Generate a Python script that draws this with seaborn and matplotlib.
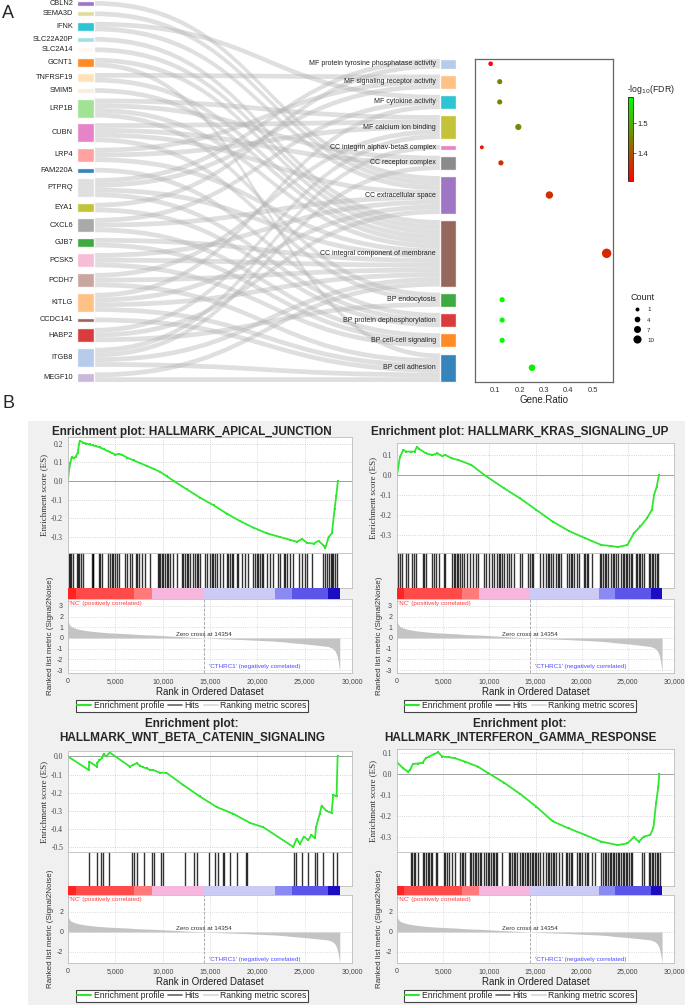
import numpy as np
import pandas as pd
import matplotlib
matplotlib.use("Agg")
import matplotlib.pyplot as plt
import matplotlib.ticker as mticker
from matplotlib.path import Path
from matplotlib.patches import PathPatch, Rectangle
from matplotlib.colors import LinearSegmentedColormap, ListedColormap, BoundaryNorm, Normalize
from matplotlib.cm import ScalarMappable
from matplotlib.lines import Line2D
import seaborn as sns

sns.set_theme(style="white")
plt.rcParams["font.family"] = ["Liberation Sans", "DejaVu Sans"]
plt.rcParams["axes.unicode_minus"] = False
SERIF = ["Liberation Serif", "DejaVu Serif"]

# ── panel A data ──────────────────────────────────────────────────────────────
TERMS = ["MF protein tyrosine phosphatase activity", "MF signaling receptor activity",
         "MF cytokine activity", "MF calcium ion binding", "CC integrin alphav-beta8 complex",
         "CC receptor complex", "CC extracellular space", "CC integral component of membrane",
         "BP endocytosis", "BP protein dephosphorylation", "BP cell-cell signaling",
         "BP cell adhesion"]
TERM_COLORS = ["#aec7e8", "#ffbb78", "#17becf", "#bcbd22", "#e377c2", "#7f7f7f",
               "#9467bd", "#8c564b", "#2ca02c", "#d62728", "#ff7f0e", "#1f77b4"]
GENE_RATIO = [0.082, 0.119, 0.119, 0.195, 0.046, 0.124, 0.322, 0.556, 0.129, 0.129, 0.129, 0.251]
TERM_COUNT = [2, 3, 3, 5, 1, 3, 8, 14, 3, 3, 3, 6]
NEG_LOG_FDR = [1.31, 1.45, 1.45, 1.46, 1.33, 1.36, 1.36, 1.35, 1.58, 1.58, 1.58, 1.57]

GENES = ["CBLN2", "SEMA3D", "IFNK", "SLC22A20P", "SLC2A14", "GCNT1", "TNFRSF19", "SMIM5",
         "LRP1B", "CUBN", "LRP4", "FAM220A", "PTPRQ", "EYA1", "CXCL6", "GJB7", "PCSK5",
         "PCDH7", "KITLG", "CCDC141", "HABP2", "ITGB8", "MEGF10"]
GENE_COLORS = ["#9467bd", "#dbdb8d", "#17becf", "#9edae5", "#fff8ee", "#ff7f0e", "#ffdfb0",
               "#fbe9dc", "#98df8a", "#e377c2", "#ff9896", "#1f77b4", "#dcdcdc", "#bcbd22",
               "#a0a0a0", "#2ca02c", "#f7b6d2", "#c49c94", "#ffbb78", "#8c564b", "#d62728",
               "#aec7e8", "#c5b0d5"]
# term indices each gene links to
GENE_TERMS = {
    "CBLN2": [6], "SEMA3D": [6], "IFNK": [2, 6], "SLC22A20P": [7], "SLC2A14": [7],
    "GCNT1": [7, 11], "TNFRSF19": [1, 7], "SMIM5": [7], "LRP1B": [3, 5, 7, 8],
    "CUBN": [3, 5, 6, 8], "LRP4": [1, 3, 7], "FAM220A": [9], "PTPRQ": [0, 1, 7, 9],
    "EYA1": [0, 9], "CXCL6": [2, 6, 10], "GJB7": [7, 10], "PCSK5": [6, 7, 10],
    "PCDH7": [3, 7, 11], "KITLG": [2, 6, 7, 11], "CCDC141": [11], "HABP2": [3, 6, 8],
    "ITGB8": [4, 5, 7, 11], "MEGF10": [7, 11],
}

# ── panel B data ──────────────────────────────────────────────────────────────
ZERO_CROSS = 14354
MET_RANK = [0, 60, 150, 300, 500, 800, 1200, 2000, 3000, 4000, 5000, 6230, 7000, 8000,
            8835, 10000, 11000, 12000, 13000, 13500, 14354, 15500, 17000, 18500, 20000,
            21860, 23000, 23620, 25000, 26000, 27000, 27460, 27900, 28200, 28400, 28550,
            28650, 28708]
MET_VALUE = [1.7, 1.45, 1.25, 1.1, 1.0, 0.9, 0.8, 0.68, 0.58, 0.5, 0.45, 0.4, 0.35, 0.3,
             0.28, 0.22, 0.17, 0.12, 0.07, 0.05, 0.0, -0.05, -0.1, -0.15, -0.22,
             -0.3, -0.38, -0.45, -0.55, -0.65, -0.75, -0.8, -0.95, -1.2, -1.6, -2.2,
             -2.8, -3.1]
BAR_LEVELS = [-10, -0.78, -0.42, -0.28, 0.005, 0.285, 0.39, 0.95, 10]
BAR_COLORS = ["#1c0dc2", "#5b55ea", "#8a8af2", "#cbcbf6", "#f6b6de", "#ff7a7a",
              "#ff4a4a", "#ff2424"]

ES1_RANK = [0, 106, 246, 387, 598, 810, 1021, 1232, 1584, 1936, 2288, 2640, 2992, 3344,
            3766, 4189, 4646, 4998, 5350, 5702, 6230, 6934, 7638, 8342, 9046, 9750, 10454,
            11158, 12566, 13974, 15381, 16789, 18197, 19605, 21013, 22421, 23477, 24181,
            24709, 25237, 25941, 26469, 26997, 27173, 27525, 27877, 28159, 28335, 28511]
ES1_VALUE = [0.0, 0.059, 0.095, 0.127, 0.121, 0.13, 0.15, 0.215, 0.205, 0.2, 0.195, 0.19,
             0.185, 0.18, 0.17, 0.16, 0.15, 0.14, 0.145, 0.14, 0.125, 0.11, 0.095, 0.08,
             0.065, 0.048, 0.025, 0.0, -0.045, -0.09, -0.13, -0.175, -0.215, -0.25, -0.28,
             -0.3, -0.315, -0.325, -0.31, -0.33, -0.335, -0.32, -0.345, -0.36, -0.3, -0.28,
             -0.15, -0.08, 0.0]
HITS1 = [106, 211, 317, 493, 915, 1021, 1126, 1373, 1619, 2499, 2605, 2675, 3309, 3414,
         3555, 4259, 4435, 4611, 4787, 4963, 5139, 5421, 6019, 6195, 6547, 6723, 7146,
         7322, 7533, 7779, 8131, 8659, 9469, 9610, 9715, 9891, 10067, 10243, 10419, 10595,
         10771, 11123, 11475, 12003, 12179, 12355, 12531, 12707, 12883, 13235, 13411,
         13587, 13763, 13939, 14467, 14643, 14995, 15171, 15347, 15523, 15699, 16051,
         16403, 16755, 16931, 17107, 17283, 17459, 17811, 17987, 18339, 18691, 19043,
         19571, 19747, 19923, 20099, 20275, 20451, 20627, 20979, 21331, 21683, 22211,
         22387, 22810, 22950, 23091, 23443, 23795, 24429, 24675, 25027, 25203, 25731,
         26963, 27139, 27315, 27597, 27738, 27843, 28019, 28195, 28371]

ES2_RANK = [0, 141, 317, 669, 1021, 1549, 1900, 2147, 2429, 3133, 3837, 4365, 4893, 5245,
            5949, 6653, 8061, 9469, 11581, 13341, 15101, 16861, 18621, 20381, 22141, 23197,
            23901, 24957, 25661, 26365, 27069, 27597, 27843, 28125, 28371]
ES2_VALUE = [0.0, 0.04, 0.09, 0.125, 0.117, 0.117, 0.117, 0.14, 0.13, 0.108, 0.1, 0.108,
             0.095, 0.1, 0.083, 0.075, 0.05, 0.0, -0.066, -0.117, -0.175, -0.233, -0.28,
             -0.316, -0.35, -0.355, -0.36, -0.35, -0.29, -0.257, -0.216, -0.175, -0.1,
             -0.058, 0.0]
HITS2 = [141, 317, 493, 951, 1197, 1654, 1795, 2006, 2781, 2957, 3133, 3837, 4013, 4189,
         4541, 5069, 5245, 5949, 6125, 6301, 6477, 6653, 6829, 7005, 7287, 7533, 7885,
         8237, 8589, 8765, 9469, 9645, 9997, 10243, 10525, 10877, 11018, 11159, 11405,
         11581, 11863, 12109, 12355, 12637, 13341, 13517, 14221, 14397, 14573, 14749,
         15453, 15805, 16157, 16333, 16509, 16685, 16861, 17213, 17389, 17565, 17741,
         18445, 18621, 18797, 18973, 19149, 19501, 19677, 20205, 20381, 20557, 20733,
         21085, 21965, 22141, 22317, 22493, 22669, 22845, 23197, 23373, 23549, 23725,
         23901, 24253, 24429, 24605, 24781, 24957, 25133, 25309, 25485, 25837, 26013,
         26189, 26365, 26541, 26717, 27245, 27421, 27597, 27773, 27949, 28125, 28301]

ES3_RANK = [0, 2180, 2253, 3060, 3098, 3310, 3590, 3770, 4050, 4400, 6550, 6900, 7250,
            7600, 7950, 8300, 8660, 9000, 9720, 10400, 12180, 13940, 15700, 17460, 19220,
            20630, 23800, 24150, 24500, 24920, 25380, 25700, 26090, 26200, 26400, 26600,
            26790, 27310, 27840, 28020, 28370, 28480]
ES3_VALUE = [0.0, -0.074, -0.028, -0.056, -0.035, -0.022, -0.009, 0.015, 0.0, 0.022,
             -0.056, -0.046, -0.037, -0.05, -0.06, -0.065, -0.074, -0.075, -0.089, -0.09,
             -0.157, -0.22, -0.278, -0.315, -0.365, -0.389, -0.497, -0.452, -0.48, -0.44,
             -0.46, -0.43, -0.45, -0.39, -0.35, -0.315, -0.27, -0.3, -0.31, -0.21, -0.22,
             0.0]
HITS3 = [2253, 3098, 3485, 3731, 4365, 6794, 7005, 7251, 8061, 8906, 9117, 9786, 10067,
         12355, 13341, 13658, 14925, 15523, 15875, 16333, 16474, 17107, 17811, 18762,
         18938, 23866, 24042, 24675, 25379, 26083, 26259, 26893, 28019, 28400]

ES4_RANK = [0, 669, 1197, 1400, 1725, 2253, 2781, 3100, 3485, 4013, 4471, 4893, 5597,
            6301, 7357, 8765, 9821, 11581, 13341, 15101, 16861, 18621, 20381, 22141,
            23901, 24957, 25661, 26189, 26717, 27421, 27773, 28055, 28301, 28406]
ES4_VALUE = [0.056, 0.027, 0.011, 0.019, 0.048, 0.05, 0.054, 0.075, 0.083, 0.095, 0.103,
             0.083, 0.08, 0.075, 0.059, 0.035, 0.006, -0.041, -0.095, -0.156, -0.225,
             -0.259, -0.29, -0.322, -0.338, -0.33, -0.3, -0.322, -0.298, -0.29, -0.255,
             -0.14, -0.06, 0.0]
HITS4 = [1549, 1654, 1795, 1901, 2253, 2781, 2957, 3133, 3309, 3485, 3661, 3837, 4189,
         4365, 5069, 5245, 5421, 5597, 5949, 6301, 6829, 7005, 7181, 7357, 7885, 8061,
         8237, 8413, 8589, 8765, 8941, 9117, 9469, 9645, 9821, 9997, 10173, 10349, 10525,
         10701, 10877, 11405, 12109, 12285, 12461, 12637, 12813, 12989, 13341, 13517,
         13693, 13869, 14045, 14221, 14397, 14573, 14749, 14925, 15101, 15277, 15453,
         15805, 16157, 16333, 16509, 16685, 16861, 17037, 17213, 17565, 17917, 18269,
         18445, 18621, 18797, 18973, 19501, 19677, 19853, 20029, 20381, 20557, 20733,
         21085, 21437, 22141, 22317, 22493, 22669, 22845, 23021, 23197, 23373, 23549,
         23725, 23901, 24077, 24253, 24429, 24605, 24781, 24957, 25133, 25309, 25485,
         26541, 26717, 27245, 27421, 27597, 27773, 27949, 28125, 28301, 28477]

W, H = 685, 1007
fig = plt.figure(figsize=(W / 100, H / 100), dpi=100)


def px_axes(x0, y0, x1, y1):
    return fig.add_axes([x0 / W, 1 - y1 / H, (x1 - x0) / W, (y1 - y0) / H])


def stack(sizes, top, bottom, unit):
    gap = (bottom - top - unit * sum(sizes)) / (len(sizes) - 1)
    out, y = [], top
    for s in sizes:
        out.append((y, y + s * unit))
        y += s * unit + gap
    return out


# ── A. sankey ─────────────────────────────────────────────────────────────────
UNIT = 4.75
LX0, LX1, RX0, RX1 = 77, 94, 440, 456
gene_sizes = [len(GENE_TERMS[g]) for g in GENES]
term_sizes = [sum(t in GENE_TERMS[g] for g in GENES) for t in range(len(TERMS))]
gene_nodes = stack(gene_sizes, 1, 382, UNIT)
term_nodes = stack(term_sizes, 59, 382, UNIT)

ax_s = px_axes(0, 0, 470, 386)
ax_s.set_xlim(0, 470)
ax_s.set_ylim(386, 0)
ax_s.axis("off")

src_cur = [a for a, _ in gene_nodes]
tgt_cur = [a for a, _ in term_nodes]
xm = (LX1 + RX0) / 2
for gi, g in enumerate(GENES):
    for tj in sorted(GENE_TERMS[g]):
        y0a, y1a = src_cur[gi], tgt_cur[tj]
        y0b, y1b = y0a + UNIT, y1a + UNIT
        src_cur[gi] += UNIT
        tgt_cur[tj] += UNIT
        verts = [(LX1, y0a), (xm, y0a), (xm, y1a), (RX0, y1a), (RX0, y1b),
                 (xm, y1b), (xm, y0b), (LX1, y0b), (LX1, y0a)]
        codes = [Path.MOVETO, Path.CURVE4, Path.CURVE4, Path.CURVE4, Path.LINETO,
                 Path.CURVE4, Path.CURVE4, Path.CURVE4, Path.CLOSEPOLY]
        ax_s.add_patch(PathPatch(Path(verts, codes), fc="#b4b4b4", ec="none", alpha=0.42))

ax_s.bar([(LX0 + LX1) / 2] * len(GENES), [b - a for a, b in gene_nodes],
         bottom=[a for a, _ in gene_nodes], width=LX1 - LX0, color=GENE_COLORS, alpha=0.9)
ax_s.bar([(RX0 + RX1) / 2] * len(TERMS), [b - a for a, b in term_nodes],
         bottom=[a for a, _ in term_nodes], width=RX1 - RX0, color=TERM_COLORS, alpha=0.9)
for g, (a, b) in zip(GENES, gene_nodes):
    ax_s.text(LX0 - 4, (a + b) / 2, g, ha="right", va="center", fontsize=5.3, color="#222")
for t, (a, b) in zip(TERMS, term_nodes):
    ax_s.text(RX0 - 4, (a + b) / 2, t, ha="right", va="center", fontsize=5.0, color="#222")

# ── A. dot plot ───────────────────────────────────────────────────────────────
fdr_cmap = LinearSegmentedColormap.from_list("rg", ["#ff0000", "#00ff00"])
fdr_norm = Normalize(1.307, 1.587)
ax_d = px_axes(475, 59, 613, 382)
dots = pd.DataFrame({"ratio": GENE_RATIO,
                     "y": [(a + b) / 2 for a, b in term_nodes],
                     "fdr": NEG_LOG_FDR, "count": TERM_COUNT})
sns.scatterplot(data=dots, x="ratio", y="y", hue="fdr", palette=fdr_cmap, hue_norm=fdr_norm,
                size="count", sizes=(8, 46), size_norm=(1, 14), legend=False,
                edgecolor="none", ax=ax_d)
ax_d.set_xlim(0.018, 0.582)
ax_d.set_ylim(382, 59)
ax_d.set_yticks([])
ax_d.set_xticks([0.1, 0.2, 0.3, 0.4, 0.5])
ax_d.tick_params(axis="x", labelsize=5.5, length=2, width=0.5, pad=1.5, colors="#333")
ax_d.set_xlabel("Gene.Ratio", fontsize=7, labelpad=1)
ax_d.set_ylabel("")
for sp in ax_d.spines.values():
    sp.set_color("#666")
    sp.set_linewidth(0.9)

cax = px_axes(628, 97, 633, 181)
cb = fig.colorbar(ScalarMappable(norm=fdr_norm, cmap=fdr_cmap), cax=cax)
cb.set_ticks([1.4, 1.5])
cb.ax.tick_params(labelsize=5.5, length=2, width=0.5, pad=1)
cb.outline.set_linewidth(0.6)
fig.text(627 / W, 1 - 89 / H, "-log$_{10}$(FDR)", fontsize=6.3, va="center", ha="left")

legend_counts = [1, 4, 7, 10]
handles = [Line2D([], [], ls="", marker="o", color="black", markeredgewidth=0,
                  markersize=np.sqrt(8 + (c - 1) / 13 * 38)) for c in legend_counts]
ax_d.legend(handles, [str(c) for c in legend_counts], title="Count", loc="upper left",
            bbox_to_anchor=(626 / W, 1 - 289 / H), bbox_transform=fig.transFigure,
            frameon=False, fontsize=4.5, title_fontsize=6.5, labelspacing=0.75,
            handletextpad=0.6, borderpad=0.2)

fig.text(2 / W, 1 - 14 / H, "A", fontsize=13, va="center")
fig.text(2 / W, 1 - 404 / H, "B", fontsize=13, va="center")

# ── B. GSEA panels ────────────────────────────────────────────────────────────
fig.patches.append(Rectangle((28 / W, 1 - 1005 / H), (685 - 28) / W, (1005 - 421) / H,
                             transform=fig.transFigure, fc="#f0f0f0", ec="none", zorder=-5))
bar_cmap = ListedColormap(BAR_COLORS)
bar_norm = BoundaryNorm(BAR_LEVELS, bar_cmap.N)
ES_GREEN = "#2ee82e"
rank_fmt = mticker.FuncFormatter(lambda v, p: f"{int(v):,}")


def frame(ax):
    ax.set_facecolor("white")
    for sp in ax.spines.values():
        sp.set_color("#bdbdbd")
        sp.set_linewidth(0.6)
    ax.set_xlim(0, 30000)
    ax.set_xticks(range(0, 30001, 5000))
    ax.tick_params(length=2, width=0.5, pad=1.5, colors="#444", labelsize=5)


def draw_gsea(x0, x1, title, cx, title_y, rows, es_rank, es_val, hits,
              es_lim, es_ticks, met_lim, met_ticks, legend_y):
    es_top, es_bot, hit_bot, bar_bot, met_bot = rows
    fig.text(cx / W, 1 - title_y / H, title, ha="center", va="center", fontsize=8.5,
             fontweight="bold", linespacing=1.15)

    ax = px_axes(x0, es_top, x1, es_bot)
    frame(ax)
    ax.grid(True, ls=":", color="#c8c8c8", lw=0.6)
    ax.axhline(0, color="#a0a0a0", lw=0.7)
    sns.lineplot(x=es_rank, y=es_val, ax=ax, color=ES_GREEN, lw=1.3, marker="s",
                 markersize=1.6, markeredgewidth=0, sort=False, estimator=None)
    ax.set_ylim(*es_lim)
    ax.set_yticks(es_ticks)
    ax.yaxis.set_major_formatter(mticker.FormatStrFormatter("%.1f"))
    ax.set_xticklabels([])
    for lab in ax.get_yticklabels():
        lab.set_family(SERIF)
        lab.set_fontsize(5.5)
    ax.set_ylabel("Enrichment score (ES)", family=SERIF, fontsize=6.5, labelpad=2, color="#333")

    axh = px_axes(x0, es_bot, x1, hit_bot)
    frame(axh)
    axh.vlines(hits, 0, 1, color="black", lw=1.0, alpha=0.8)
    axh.set_ylim(0, 1)
    axh.set_xticks([])
    axh.set_yticks([])

    axb = px_axes(x0, hit_bot, x1, bar_bot)
    axb.pcolormesh(MET_RANK, [0, 1], [MET_VALUE[:-1]], cmap=bar_cmap, norm=bar_norm)
    axb.set_xlim(0, 30000)
    axb.axis("off")

    axm = px_axes(x0, bar_bot, x1, met_bot)
    frame(axm)
    axm.grid(True, ls=":", color="#d0d0d0", lw=0.6)
    axm.fill_between(MET_RANK, MET_VALUE, 0, color="#c4c4c4", lw=0)
    axm.axvline(ZERO_CROSS, ls="--", color="#a0a0a0", lw=0.6)
    axm.set_ylim(*met_lim)
    axm.set_yticks(met_ticks)
    axm.xaxis.set_major_formatter(rank_fmt)
    axm.text(ZERO_CROSS, 0.12, f"Zero cross at {ZERO_CROSS}", ha="center", va="bottom",
             fontsize=4.5, color="#333")
    axm.text(150, met_lim[1] - 0.15, "'NC' (positively correlated)", ha="left", va="top",
             fontsize=4.5, color="#ff3b3b")
    axm.text(14900, -2.7, "'CTHRC1' (negatively correlated)", ha="left", va="center",
             fontsize=4.5, color="#4a4aff")
    axm.set_xlabel("Rank in Ordered Dataset", fontsize=7, labelpad=1.5, color="#222")
    axm.set_ylabel("Ranked list metric (Signal2Noise)", fontsize=5.8, labelpad=2, color="#333")

    handles = [Line2D([], [], color=ES_GREEN, lw=1.5), Line2D([], [], color="#666", lw=1.2),
               Line2D([], [], color="#dddddd", lw=1.5)]
    leg = fig.legend(handles, ["Enrichment profile", "Hits", "Ranking metric scores"],
                     loc="upper center", bbox_to_anchor=(cx / W, 1 - legend_y / H), ncol=3,
                     fontsize=6.2, frameon=True, fancybox=False, edgecolor="#444",
                     framealpha=1, borderpad=0.15, handlelength=1.6, handletextpad=0.3,
                     columnspacing=0.5, borderaxespad=0)
    leg.get_frame().set_linewidth(0.8)


draw_gsea(68, 352, "Enrichment plot: HALLMARK_APICAL_JUNCTION", 192, 432,
          (437, 553, 588, 599, 673),
          ES1_RANK, ES1_VALUE, HITS1, (-0.385, 0.235), [-0.3, -0.2, -0.1, 0.0, 0.1, 0.2],
          (-3.28, 3.65), [-3, -2, -1, 0, 1, 2, 3], 700)
draw_gsea(397, 674, "Enrichment plot: HALLMARK_KRAS_SIGNALING_UP", 520, 432,
          (443, 553, 588, 599, 673),
          ES2_RANK, ES2_VALUE, HITS2, (-0.39, 0.16), [-0.3, -0.2, -0.1, 0.0, 0.1],
          (-3.28, 3.65), [-3, -2, -1, 0, 1, 2, 3], 700)
draw_gsea(68, 352, "Enrichment plot:\nHALLMARK_WNT_BETA_CATENIN_SIGNALING", 192, 731,
          (751, 852, 886, 895, 963),
          ES3_RANK, ES3_VALUE, HITS3, (-0.525, 0.03), [-0.5, -0.4, -0.3, -0.2, -0.1, 0.0],
          (-3.1, 3.7), [-2, 0, 2], 990)
draw_gsea(397, 674, "Enrichment plot:\nHALLMARK_INTERFERON_GAMMA_RESPONSE", 520, 731,
          (749, 852, 886, 895, 963),
          ES4_RANK, ES4_VALUE, HITS4, (-0.371, 0.119), [-0.3, -0.2, -0.1, 0.0, 0.1],
          (-3.1, 3.7), [-2, 0, 2], 990)

fig.savefig("out.png", dpi=100, facecolor="white")
